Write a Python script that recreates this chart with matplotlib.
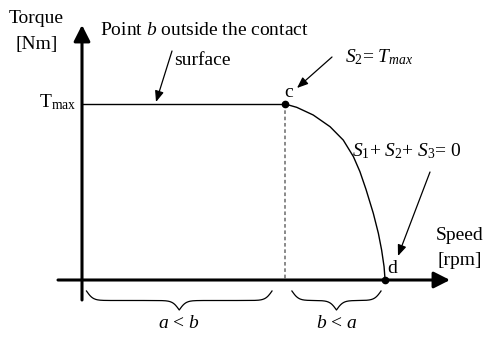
import numpy as np
import matplotlib
matplotlib.use('Agg')
import matplotlib.pyplot as plt

plt.rcParams['font.family'] = ['Liberation Serif', 'DejaVu Serif']
plt.rcParams['mathtext.fontset'] = 'custom'
plt.rcParams['mathtext.rm'] = 'Liberation Serif'
plt.rcParams['mathtext.it'] = 'Liberation Serif:italic'

# data (speed and torque in normalised units: speed at c = 1, Tmax = 1)
flat_speed = [0.0, 1.0]
flat_torque = [1.0, 1.0]
curve_speed = [1.0, 1.058, 1.139, 1.222, 1.287, 1.337, 1.369, 1.399, 1.435, 1.460, 1.476, 1.488, 1.493]
curve_torque = [1.0, 0.981, 0.9375, 0.871, 0.795, 0.701, 0.616, 0.515, 0.379, 0.265, 0.170, 0.076, 0.0]
point_speed = [1.0, 1.493]
point_torque = [1.0, 0.0]
point_labels = ['c', 'd']
brace_ranges = [(0.022, 0.936), (1.034, 1.473)]
brace_labels = ['$a$ < $b$', '$b$ < $a$']

W, H = 487, 337
fig = plt.figure(figsize=(W / 100, H / 100), dpi=100)
ax = fig.add_axes([0, 0, 1, 1])
ax.set_xlim(-82 / 203, (W - 82) / 203)
ax.set_ylim(-(H - 280) / 176, 280 / 176)
ax.axis('off')


def P(px, py):
    # pixel position (from top-left) -> data coords
    return ((px - 82) / 203, (280 - py) / 176)


fs = 14

# axes with arrows
ax.annotate('', xy=P(82, 25), xytext=P(82, 300),
            arrowprops=dict(arrowstyle='-|>,head_length=0.75,head_width=0.38',
                            mutation_scale=13, lw=2.2, color='black', shrinkA=0, shrinkB=0))
ax.annotate('', xy=P(450, 280), xytext=P(58, 280),
            arrowprops=dict(arrowstyle='-|>,head_length=0.75,head_width=0.38',
                            mutation_scale=13, lw=2.2, color='black', shrinkA=0, shrinkB=0))

# torque-speed characteristic
ax.plot(flat_speed, flat_torque, color='black', lw=1.0)
ax.plot(curve_speed, curve_torque, color='black', lw=1.0, solid_joinstyle='round')
ax.plot([point_speed[0], point_speed[0]], [point_torque[0], 0], color='#808080',
        lw=1.3, linestyle=(0, (2, 1.5)))
ax.plot(point_speed, point_torque, 'o', color='black', ms=4.5, zorder=5)

# labels
ax.text(*P(36.5, 23), 'Torque', ha='center', va='baseline', fontsize=fs)
ax.text(*P(36.5, 49), '[Nm]', ha='center', va='baseline', fontsize=fs)
ax.text(*P(204, 35), 'Point $b$ outside the contact', ha='center', va='baseline', fontsize=fs)
ax.text(*P(202, 65), 'surface', ha='center', va='baseline', fontsize=fs)
ax.text(*P(76, 107), r'T$_{\mathrm{max}}$', ha='right', va='baseline', fontsize=fs)
ax.text(*P(289, 97), point_labels[0], ha='center', va='baseline', fontsize=fs)
ax.text(*P(387, 273), point_labels[1], ha='left', va='baseline', fontsize=fs)
ax.text(*P(436, 240), 'Speed', ha='left', va='baseline', fontsize=fs)
ax.text(*P(438, 265), '[rpm]', ha='left', va='baseline', fontsize=fs)
ax.text(*P(345, 62), r'$\mathit{S_2}$= $\mathit{T_{max}}$', ha='left', va='baseline', fontsize=fs)
ax.text(*P(352, 156), r'$\mathit{S_1}$+ $\mathit{S_2}$+ $\mathit{S_3}$= $\mathit{0}$',
        ha='left', va='baseline', fontsize=fs)

# annotation arrows
arr = dict(arrowstyle='-|>,head_length=0.55,head_width=0.22', mutation_scale=12,
           lw=0.9, color='black', shrinkA=0, shrinkB=0)
ax.annotate('', xy=P(156, 102), xytext=P(172, 51), arrowprops=arr)
ax.annotate('', xy=P(297, 88), xytext=P(332, 57), arrowprops=arr)
ax.annotate('', xy=P(398, 256), xytext=P(430, 172), arrowprops=arr)


# curly braces under the speed axis
def brace(x0, x1, label):
    px0 = 82 + 203 * x0
    px1 = 82 + 203 * x1
    n = 301
    xs = np.linspace(px0, px1, n)
    half = xs[:n // 2 + 1]
    beta = 0.3
    yh = 1 / (1 + np.exp(-beta * (half - half[0]))) + 1 / (1 + np.exp(-beta * (half - half[-1])))
    yy = np.concatenate((yh, yh[-2::-1]))
    py = 291 + (yy - 0.5) * 19
    ax.plot((xs - 82) / 203, (280 - py) / 176, color='black', lw=0.9)
    ax.text(*P((px0 + px1) / 2, 328), label, ha='center', va='baseline', fontsize=fs)


for (b0, b1), lab in zip(brace_ranges, brace_labels):
    brace(b0, b1, lab)

fig.savefig('out.png', dpi=100)
